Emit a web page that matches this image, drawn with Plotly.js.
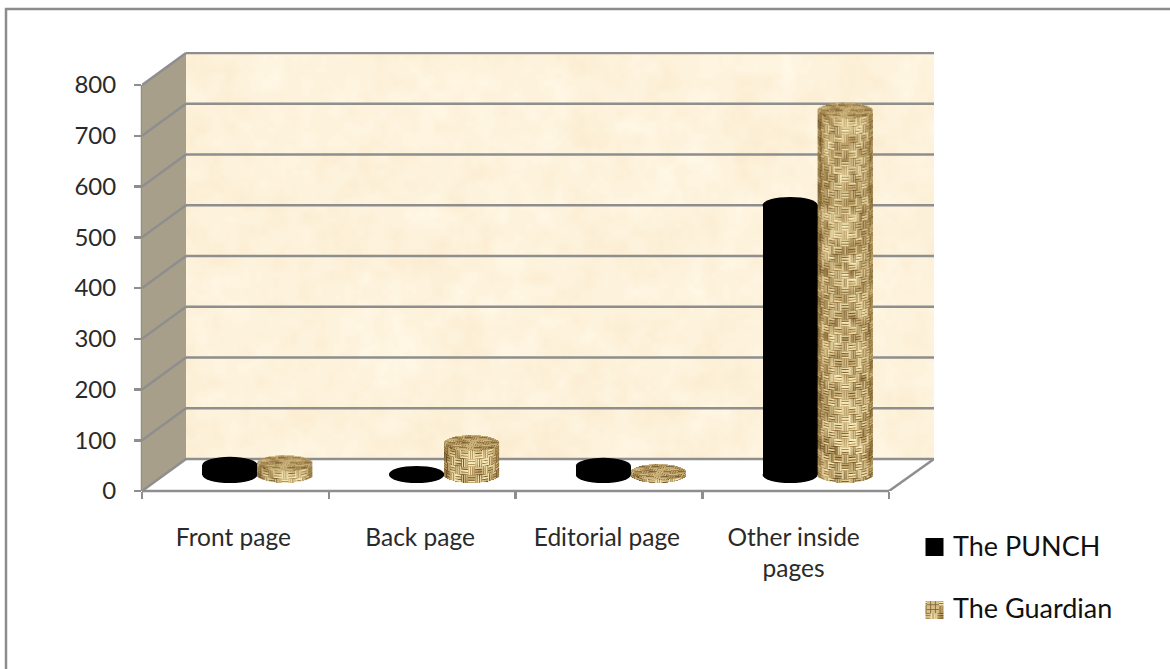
<!DOCTYPE html>
<html>
<head>
<meta charset="utf-8">
<script src="https://cdn.plot.ly/plotly-3.0.1.min.js"></script>
<style>html,body{margin:0;padding:0;background:#fff}#chart{width:1170px;height:669px}</style>
</head>
<body>
<div id="chart"></div>
<script>
// Newspaper page placement counts for two titles
const categories = ['Front page', 'Back page', 'Editorial page', 'Other inside<br>pages'];
const punchValues = [20, 2, 18, 532];
const guardianValues = [23, 63, 6, 718];
const seriesNames = ['The PUNCH', 'The Guardian'];
const yTicks = [0, 100, 200, 300, 400, 500, 600, 700, 800];

// Pixel frame of the chart box, used to convert to axis units
const W = 1170, H = 669;
const L = 142, R = 934, T = 52, B = 491;
const catPx = 186.75;        // width of one category on the front edge
const unitPx = 0.5075;       // pixels per value unit
const depthXpx = 44, depthYpx = 32;
const dx = depthXpx / catPx, dy = depthYpx / unitPx;
const xMax = (R - L) / catPx, yMax = (B - T) / unitPx;
const barPx = 55, capPx = 8;
const barW = barPx / catPx, capH = capPx / unitPx;
const baseY = dy / 2;
const GRID = '#8e8e8e';

function px2paperX(p) { return (p - L) / (R - L); }
function px2paperY(p) { return (B - p) / (B - T); }

function hash(a, b) {
  const s = Math.sin(a * 127.1 + b * 311.7) * 43758.5453;
  return s - Math.floor(s);
}
function smooth(t) { return t * t * (3 - 2 * t); }
function vnoise(x, y) {
  const xi = Math.floor(x), yi = Math.floor(y), fx = smooth(x - xi), fy = smooth(y - yi);
  const a = hash(xi, yi), b = hash(xi + 1, yi), c = hash(xi, yi + 1), d = hash(xi + 1, yi + 1);
  return (a + (b - a) * fx) * (1 - fy) + (c + (d - c) * fx) * fy;
}

// Mottled paper used for the back wall
function parchment(w, h) {
  const c = document.createElement('canvas'); c.width = w; c.height = h;
  const g = c.getContext('2d'), im = g.createImageData(w, h);
  for (let y = 0; y < h; y++) for (let x = 0; x < w; x++) {
    const n = 0.4 * vnoise(x / 40, y / 40) + 0.4 * vnoise(x / 15 + 9, y / 15 + 4) + 0.2 * vnoise(x / 6, y / 6);
    const d = (n - 0.5) * 26;
    const i = (y * w + x) * 4;
    im.data[i] = 253 + d * 0.2; im.data[i + 1] = 242 + d * 0.55; im.data[i + 2] = 219 + d;
    im.data[i + 3] = 255;
  }
  g.putImageData(im, 0, 0);
  return c.toDataURL('image/png');
}

// Basket weave brightness in the range 0..1, irregular like coarse sacking
function weave(u, v) {
  const cu = 8, cv = 8;
  const i = Math.floor(u / cu), j = Math.floor(v / cv);
  const fu = u / cu - i, fv = v / cv - j;
  const across = (((i + j) % 2) + 2) % 2 === 0;
  const t = (across ? fv : fu) * 3;
  const s = Math.floor(t), ft = t - s;
  const strand = Math.sin(Math.PI * ft);
  const tone = hash(i * 3 + (across ? 0 : s), j * 5 + (across ? s : 0));
  const blotch = vnoise(u / 11 + 5, v / 11 + 2);
  return Math.max(0, Math.min(1, -0.1 + 0.5 * strand + 0.58 * tone * strand + 0.42 * blotch));
}
function ramp(b) {
  const dark = [84, 60, 24], mid = [176, 146, 88], light = [248, 234, 186];
  const p = b < 0.5 ? dark : mid, q = b < 0.5 ? mid : light, f = b < 0.5 ? b * 2 : b * 2 - 1;
  return [p[0] + (q[0] - p[0]) * f, p[1] + (q[1] - p[1]) * f, p[2] + (q[2] - p[2]) * f];
}

// Woven cylinder: side wall, curved base and a foreshortened top cap
function wovenCylinder(wPx, hPx, ry) {
  const w = Math.round(wPx), h = Math.round(hPx);
  const rx = w / 2;
  const c = document.createElement('canvas'); c.width = w; c.height = h;
  const g = c.getContext('2d'), im = g.createImageData(w, h);
  for (let y = 0; y < h; y++) for (let x = 0; x < w; x++) {
    const nx = (x + 0.5 - rx) / rx;
    if (Math.abs(nx) >= 1) continue;
    const arc = Math.sqrt(1 - nx * nx) * ry;
    const topC = ry, botC = h - ry;
    const yy = y + 0.5;
    if (yy < topC - arc || yy > botC + arc) continue;
    let col;
    const i = (y * w + x) * 4;
    if (yy < topC + arc) {
      const b = weave(x * 1.1 + yy * 0.6, yy * 3.2);
      col = ramp(0.2 + b * 0.55);
    } else {
      const u = Math.asin(nx) * rx * 1.15;
      const b = weave(u + 100, yy - arc + 400);
      const edge = 1 - 0.42 * Math.pow(Math.abs(nx), 3);
      col = ramp(Math.min(1, b * edge + 0.08));
    }
    im.data[i] = col[0]; im.data[i + 1] = col[1]; im.data[i + 2] = col[2]; im.data[i + 3] = 255;
  }
  g.putImageData(im, 0, 0);
  const out = document.createElement('canvas'); out.width = w; out.height = h;
  const og = out.getContext('2d');
  og.filter = 'blur(0.55px)';
  og.drawImage(c, 0, 0);
  return out.toDataURL('image/png');
}

// Flat woven square for the key
function wovenSwatch(s) {
  const c = document.createElement('canvas'); c.width = s; c.height = s;
  const g = c.getContext('2d'), im = g.createImageData(s, s);
  for (let y = 0; y < s; y++) for (let x = 0; x < s; x++) {
    const col = ramp(Math.min(1, weave(x * 1.1 + 3, y * 1.1 + 3) + 0.04));
    const i = (y * s + x) * 4;
    im.data[i] = col[0]; im.data[i + 1] = col[1]; im.data[i + 2] = col[2]; im.data[i + 3] = 255;
  }
  g.putImageData(im, 0, 0);
  return c.toDataURL('image/png');
}

const centers = categories.map((_, i) => i + 0.5);
const labelAt = centers.map(c => c - 2 / catPx);
const punchX = centers.map(c => c + dx / 2 - barW / 2);
const guardX = centers.map(c => c + dx / 2 + barW / 2);

const traces = [
  { type: 'bar', name: seriesNames[0], legendgroup: 'punch', x: punchX, y: punchValues, base: baseY, width: barW,
    marker: { color: '#000000', line: { width: 0 } }, hoverinfo: 'name+y' },
  { type: 'bar', name: seriesNames[1], legendgroup: 'guardian', x: guardX, y: guardianValues, base: baseY, width: barW,
    marker: { color: '#b4965c', line: { width: 0 }, pattern: { shape: '+', fgcolor: '#7a5f30', bgcolor: '#d5bd85', size: 6, solidity: 0.3 } },
    hoverinfo: 'name+y' }
];

const shapes = [];
function line(x0, y0, x1, y1, width) {
  shapes.push({ type: 'line', layer: 'between', xref: 'x', yref: 'y', x0, y0, x1, y1, line: { color: GRID, width: width || 2.5 } });
}
// Lines on the edge of the plot area go in paper units so they are not clipped
function edgeLine(x0, y0, x1, y1) {
  shapes.push({ type: 'line', layer: 'between', xref: 'paper', yref: 'paper',
    x0: x0 / xMax, y0: y0 / yMax, x1: x1 / xMax, y1: y1 / yMax, line: { color: GRID, width: 2.5 } });
}

// Side wall
shapes.push({ type: 'path', layer: 'between', xref: 'x', yref: 'y',
  path: `M0,0 L0,800 L${dx},${800 + dy} L${dx},${dy} Z`, fillcolor: '#a89f8b', line: { width: 0 } });
// Walls' grid, floor outline and vertical spine
yTicks.forEach(v => {
  line(dx, v + dy, xMax, v + dy);
  line(0, v, dx, v + dy);
});
edgeLine(0, 0, 0, 800);
edgeLine(0, 0, 4, 0);
line(4, 0, xMax, dy);

// Rounded ends of the black columns
punchValues.forEach((v, i) => {
  [baseY, baseY + v].forEach(yc => shapes.push({
    type: 'circle', layer: 'between', xref: 'x', yref: 'y',
    x0: punchX[i] - barW / 2, x1: punchX[i] + barW / 2,
    y0: yc - capH, y1: yc + capH, fillcolor: '#000000', line: { width: 0 } }));
});

// Frame round the whole chart
const fL = 6, fT = 9, fR = 1240, fB = 740;
shapes.push({ type: 'rect', layer: 'below', xref: 'paper', yref: 'paper',
  x0: px2paperX(fL), x1: px2paperX(fR), y0: px2paperY(fB), y1: px2paperY(fT),
  line: { color: '#8c8c8c', width: 2.5 }, fillcolor: 'rgba(0,0,0,0)' });

// Key swatches, sized to the legend rows
const legendSwatchX = 934.5, swatchSize = 18;
shapes.push({ type: 'rect', layer: 'above', xref: 'paper', yref: 'paper',
  x0: px2paperX(legendSwatchX - 9), x1: px2paperX(legendSwatchX + 9),
  y0: px2paperY(556), y1: px2paperY(538), fillcolor: '#000000', line: { width: 0 } });

const images = [
  { source: parchment(R - (L + depthXpx), B - depthYpx - T), layer: 'below', xref: 'x', yref: 'y',
    x: dx, y: yMax, sizex: xMax - dx, sizey: yMax - dy, sizing: 'stretch', xanchor: 'left', yanchor: 'top' },
  { source: wovenSwatch(swatchSize), layer: 'above', xref: 'paper', yref: 'paper',
    x: px2paperX(legendSwatchX - 9), y: px2paperY(601), sizex: swatchSize / (R - L), sizey: swatchSize / (B - T),
    sizing: 'stretch', xanchor: 'left', yanchor: 'top' }
];
guardianValues.forEach((v, i) => {
  const hPx = v * unitPx + 2 * capPx;
  images.push({
    source: wovenCylinder(barPx, hPx, capPx), layer: 'above', xref: 'x', yref: 'y',
    x: guardX[i] - barW / 2, y: baseY + v + capH, sizex: barW, sizey: v + 2 * capH,
    sizing: 'stretch', xanchor: 'left', yanchor: 'top'
  });
});

const family = 'Lato, "Open Sans", sans-serif';
const layout = {
  width: W, height: H,
  margin: { l: L, r: W - R, t: T, b: H - B, pad: 0, autoexpand: false },
  paper_bgcolor: '#ffffff', plot_bgcolor: 'rgba(0,0,0,0)',
  barmode: 'overlay', bargap: 0,
  showlegend: true,
  legend: {
    x: px2paperX(913), y: px2paperY(521), xanchor: 'left', yanchor: 'top',
    bgcolor: 'rgba(0,0,0,0)', borderwidth: 0, tracegroupgap: 24, traceorder: 'grouped',
    font: { family, size: 27, color: '#111111' }
  },
  xaxis: {
    range: [0, xMax], showgrid: false, zeroline: false, showline: false, fixedrange: true,
    tickmode: 'array', tickvals: labelAt, ticktext: categories, ticks: '', ticklabelstandoff: 29,
    tickfont: { family, size: 24.5, color: '#2a2a2a' },
    minor: { tickmode: 'array', tickvals: [0, 1, 2, 3, 4], ticks: 'outside', ticklen: 7, tickwidth: 2.5, tickcolor: GRID, showgrid: false }
  },
  yaxis: {
    range: [0, yMax], showgrid: false, zeroline: false, showline: false, fixedrange: true,
    tickmode: 'array', tickvals: yTicks, ticks: 'outside', ticklen: 7, tickwidth: 2.5, tickcolor: GRID,
    ticklabelstandoff: 13,
    tickfont: { family, size: 24, color: '#2a2a2a' }
  },
  shapes, images
};
Plotly.newPlot('chart', traces, layout, { displayModeBar: false, staticPlot: true });
</script>
</body>
</html>
